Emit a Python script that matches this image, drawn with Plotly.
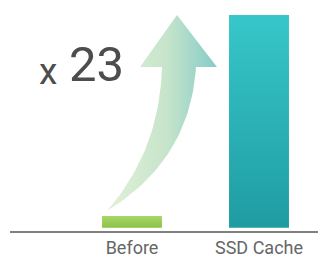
import plotly.graph_objects as go
import numpy as np

categories = ["Before", "SSD Cache"]
values = [1.27, 23.0]
multiplier_label = "23"

W, H = 318, 257
bar_half = 0.236
x_pos = [0, 1]

bar_grads = [
    ["#a9d66c", "#8cc345"],   # top, bottom
    ["#37c7ca", "#1f9ca2"],
]

fig = go.Figure()

# arrow (decoration) built in data units, tip at the SSD value
def qbez(p0, c, p2, n=40):
    t = np.linspace(0, 1, n)[:, None]
    p0, c, p2 = map(np.array, (p0, c, p2))
    return (1 - t) ** 2 * p0 + 2 * (1 - t) * t * c + t ** 2 * p2

tail = (-0.197, 1.81)
left_top = (0.236, 17.38)
right_top = (0.504, 17.38)
left_edge = qbez(tail, (0.220, 8.40), left_top)
right_edge = qbez(right_top, (0.457, 7.32), tail)
head = np.array([left_top, (0.063, 17.38), (0.354, values[1]), (0.669, 17.38), right_top])
arrow = np.vstack([left_edge, head, right_edge])
fig.add_trace(go.Scatter(
    x=arrow[:, 0], y=arrow[:, 1], mode="lines", line=dict(width=0),
    fill="toself",
    fillgradient=dict(type="horizontal", colorscale=[[0, "#e2f1d8"], [0.55, "#c6e4cb"], [1, "#84cbc8"]]),
    hoverinfo="skip", showlegend=False,
))

for xp, v, g in zip(x_pos, values, bar_grads):
    fig.add_trace(go.Scatter(
        x=[xp - bar_half, xp + bar_half, xp + bar_half, xp - bar_half, xp - bar_half],
        y=[0, 0, v, v, 0], mode="lines", line=dict(width=0), fill="toself",
        fillgradient=dict(type="vertical", colorscale=[[0, g[1]], [1, g[0]]]),
        hoverinfo="skip", showlegend=False,
    ))

fig.update_layout(
    width=W, height=H,
    margin=dict(l=10, r=0, t=0, b=26, autoexpand=False),
    paper_bgcolor="white", plot_bgcolor="white",
    font=dict(family="Roboto", color="#666666"),
    xaxis=dict(range=[-0.9606, 1.4646], tickvals=x_pos, ticktext=categories,
               showgrid=False, zeroline=False, showline=True, linecolor="#808080",
               linewidth=1.5, ticks="", tickfont=dict(size=18, color="#666666"),
               automargin=False, fixedrange=True),
    yaxis=dict(range=[-0.357, 24.62], visible=False, automargin=False, fixedrange=True),
    annotations=[
        dict(text="x", x=(37 - 10) / 308, y=(231 - 94.5) / 231, xref="paper", yref="paper",
             xanchor="left", yanchor="bottom", showarrow=False,
             font=dict(size=37, color="#4d4d4d", family="Roboto")),
        dict(text=multiplier_label, x=(67 - 10) / 308, y=(231 - 94.5) / 231, xref="paper", yref="paper",
             xanchor="left", yanchor="bottom", showarrow=False,
             font=dict(size=49, color="#4d4d4d", family="Roboto")),
    ],
)

fig.write_html("out.html", config={"displayModeBar": False},
               post_script="document.body.style.margin='0';document.body.style.overflow='hidden';")
